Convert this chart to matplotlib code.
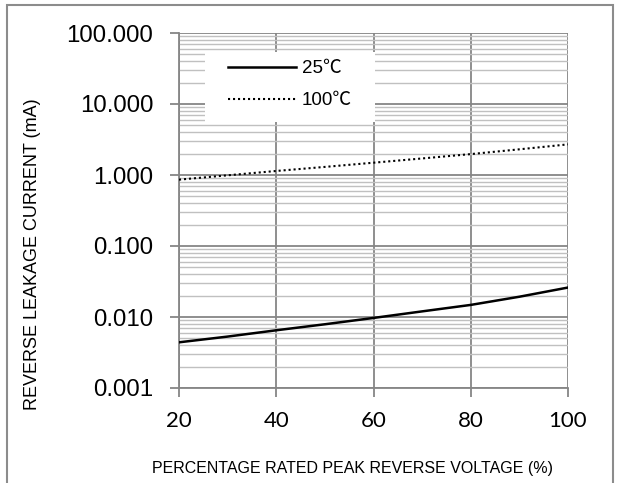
import matplotlib
matplotlib.use('Agg')
import matplotlib.pyplot as plt
from matplotlib.patches import Rectangle
from matplotlib.ticker import FixedLocator, LogLocator, NullFormatter, FormatStrFormatter

# данные
voltage_pct = [20, 30, 40, 50, 60, 70, 80, 90, 100]
current_25c = [0.0044, 0.0053, 0.0065, 0.0079, 0.0097, 0.0120, 0.0148, 0.0193, 0.026]
current_100c = [0.86, 0.99, 1.14, 1.30, 1.49, 1.71, 1.97, 2.30, 2.70]
series_labels = ['25℃', '100℃']
x_ticks = [20, 40, 60, 80, 100]
y_ticks = [0.001, 0.01, 0.1, 1, 10, 100]

W, H = 625, 483
major_col = '#868686'
minor_col = '#c0c0c0'

fig = plt.figure(figsize=(W / 100, H / 100), dpi=100)
ax = fig.add_axes([179 / W, 1 - 388 / H, (568 - 179) / W, (388 - 33) / H])

# рамка вокруг всего рисунка
fig.patches.append(Rectangle((7 / W, -0.02), (613 - 7) / W, 1 - 5 / H + 0.02,
                             transform=fig.transFigure, fill=False,
                             edgecolor='#8c8c8c', linewidth=1.5))

ax.set_yscale('log')
ax.set_xlim(20, 100)
ax.set_ylim(0.001, 100)

ax.xaxis.set_major_locator(FixedLocator(x_ticks))
ax.yaxis.set_major_locator(FixedLocator(y_ticks))
ax.yaxis.set_minor_locator(LogLocator(base=10, subs=range(2, 10)))
ax.yaxis.set_major_formatter(FormatStrFormatter('%.3f'))
ax.yaxis.set_minor_formatter(NullFormatter())

ax.grid(True, which='major', color=major_col, linewidth=1.3, zorder=0)
ax.grid(True, which='minor', axis='y', color=minor_col, linewidth=1.0, zorder=0)
ax.set_axisbelow(True)

for s in ['top', 'right']:
    ax.spines[s].set_visible(False)
for s in ['left', 'bottom']:
    ax.spines[s].set_color(major_col)
    ax.spines[s].set_linewidth(1.3)

ax.tick_params(axis='y', which='major', length=6.5, width=1.3, color=major_col,
               pad=12, labelsize=17.3)
ax.tick_params(axis='y', which='minor', length=0)
ax.tick_params(axis='x', which='major', length=6.5, width=1.3, color=major_col,
               pad=10, labelsize=16)
for lab in ax.get_yticklabels():
    lab.set_family('Liberation Sans')
for lab in ax.get_xticklabels():
    lab.set_family('Lato')

l1, = ax.plot(voltage_pct, current_25c, color='black', linewidth=1.8, zorder=3)
l2, = ax.plot(voltage_pct, current_100c, color='black', linewidth=1.5,
              linestyle=(0, (1, 1.4)), zorder=3)

# белая подложка под легенду
ax.add_patch(Rectangle((26 / 389, (388 - 122) / 355), 170 / 389, 70 / 355,
                       transform=ax.transAxes, facecolor='white',
                       edgecolor='none', zorder=2))
leg = ax.legend([l1, l2], series_labels, loc='upper left',
                bbox_to_anchor=((228 - 179) / 389, (388 - 60) / 355),
                frameon=False, borderpad=0, borderaxespad=0,
                handlelength=3.6, handletextpad=0.35, labelspacing=0.8,
                prop={'family': ['Liberation Sans', 'Noto Sans CJK SC'], 'size': 13.5})
leg.set_zorder(4)

fig.text(352 / W, 1 - 468 / H, 'PERCENTAGE RATED PEAK REVERSE VOLTAGE (%)',
         ha='center', va='center', fontsize=11.5,
         family=['Liberation Sans Narrow', 'Liberation Sans'])
fig.text(33 / W, 1 - 254 / H, 'REVERSE LEAKAGE CURRENT (mA)',
         ha='center', va='center', rotation=90, fontsize=13,
         family='Liberation Sans')

fig.savefig('out.png', dpi=100)
